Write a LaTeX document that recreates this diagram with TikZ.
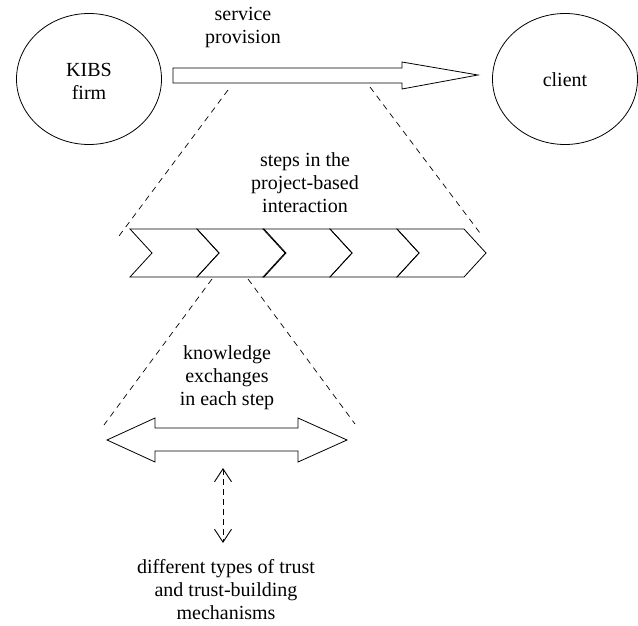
\documentclass[tikz,border=0pt]{standalone}
\usepackage{fontspec}
\setmainfont{Liberation Serif}
\usetikzlibrary{shapes.geometric,arrows.meta}
\begin{document}
\begin{tikzpicture}[x=1pt,y=-1pt,
  line width=0.8pt,
  party/.style={draw,ellipse,minimum width=145pt,minimum height=131pt,inner sep=0pt},
  lbl/.style={align=center,font=\fontsize{20}{23}\selectfont,inner sep=0pt},
  zoomline/.style={dash pattern=on 6pt off 5pt,line width=0.7pt},
  blockarrow/.style={draw,line join=miter,fill=white},
  chev/.style={draw,line join=miter}]
\useasboundingbox (0,0) rectangle (638,626);

% parties
\node[party] (kibs) at (89,79) {};
\node[lbl] (kibstext) at (89,81) {KIBS\\firm};
\node[party] (client) at (565,79) {};
\node[lbl] (clienttext) at (565,80) {client};

% service provision arrow
\draw[blockarrow] (173,68) -- (402,68) -- (402,62) -- (478,75) -- (402,89) -- (402,83) -- (173,83) -- cycle;
\node[lbl] (service) at (243,28) {service\\provision};

% zoom lines 1
\coordinate (z1a) at (228,90);
\coordinate (z1b) at (119,236);
\coordinate (z1c) at (370,87);
\coordinate (z1d) at (480,233);
\draw[zoomline] (z1a) -- (z1b);
\draw[zoomline] (z1c) -- (z1d);

\node[lbl] (steps) at (305,183) {steps in the\\project-based\\interaction};

% chevrons
\foreach \x in {130,197,263,330,397}{
  \draw[chev] (\x,229) -- (\x+67,229) -- (\x+89,253) -- (\x+67,277) -- (\x,277) -- (\x+22,253) -- cycle;
}

% zoom lines 2
\coordinate (z2a) at (212,279);
\coordinate (z2b) at (104,425);
\coordinate (z2c) at (248,279);
\coordinate (z2d) at (355,424);
\draw[zoomline] (z2a) -- (z2b);
\draw[zoomline] (z2c) -- (z2d);

\node[lbl] (knowledge) at (227,378) {knowledge\\exchanges\\in each step};

% double block arrow
\draw[blockarrow] (107,440) -- (155,418) -- (155,428) -- (298,428) -- (298,418) -- (347,440) -- (298,462) -- (298,451) -- (155,451) -- (155,462) -- cycle;

% trust
\node[lbl] (trust) at (226,590) {different types of trust\\and trust-building\\mechanisms};
\coordinate (dtop) at (223,468);
\coordinate (dbot) at (223,543);
\draw[dash pattern=on 6pt off 4pt,line width=0.9pt,{Straight Barb[length=13pt,width=17pt,line width=0.9pt]}-{Straight Barb[length=13pt,width=17pt,line width=0.9pt]}] (dtop) -- (dbot);
\end{tikzpicture}
\end{document}
